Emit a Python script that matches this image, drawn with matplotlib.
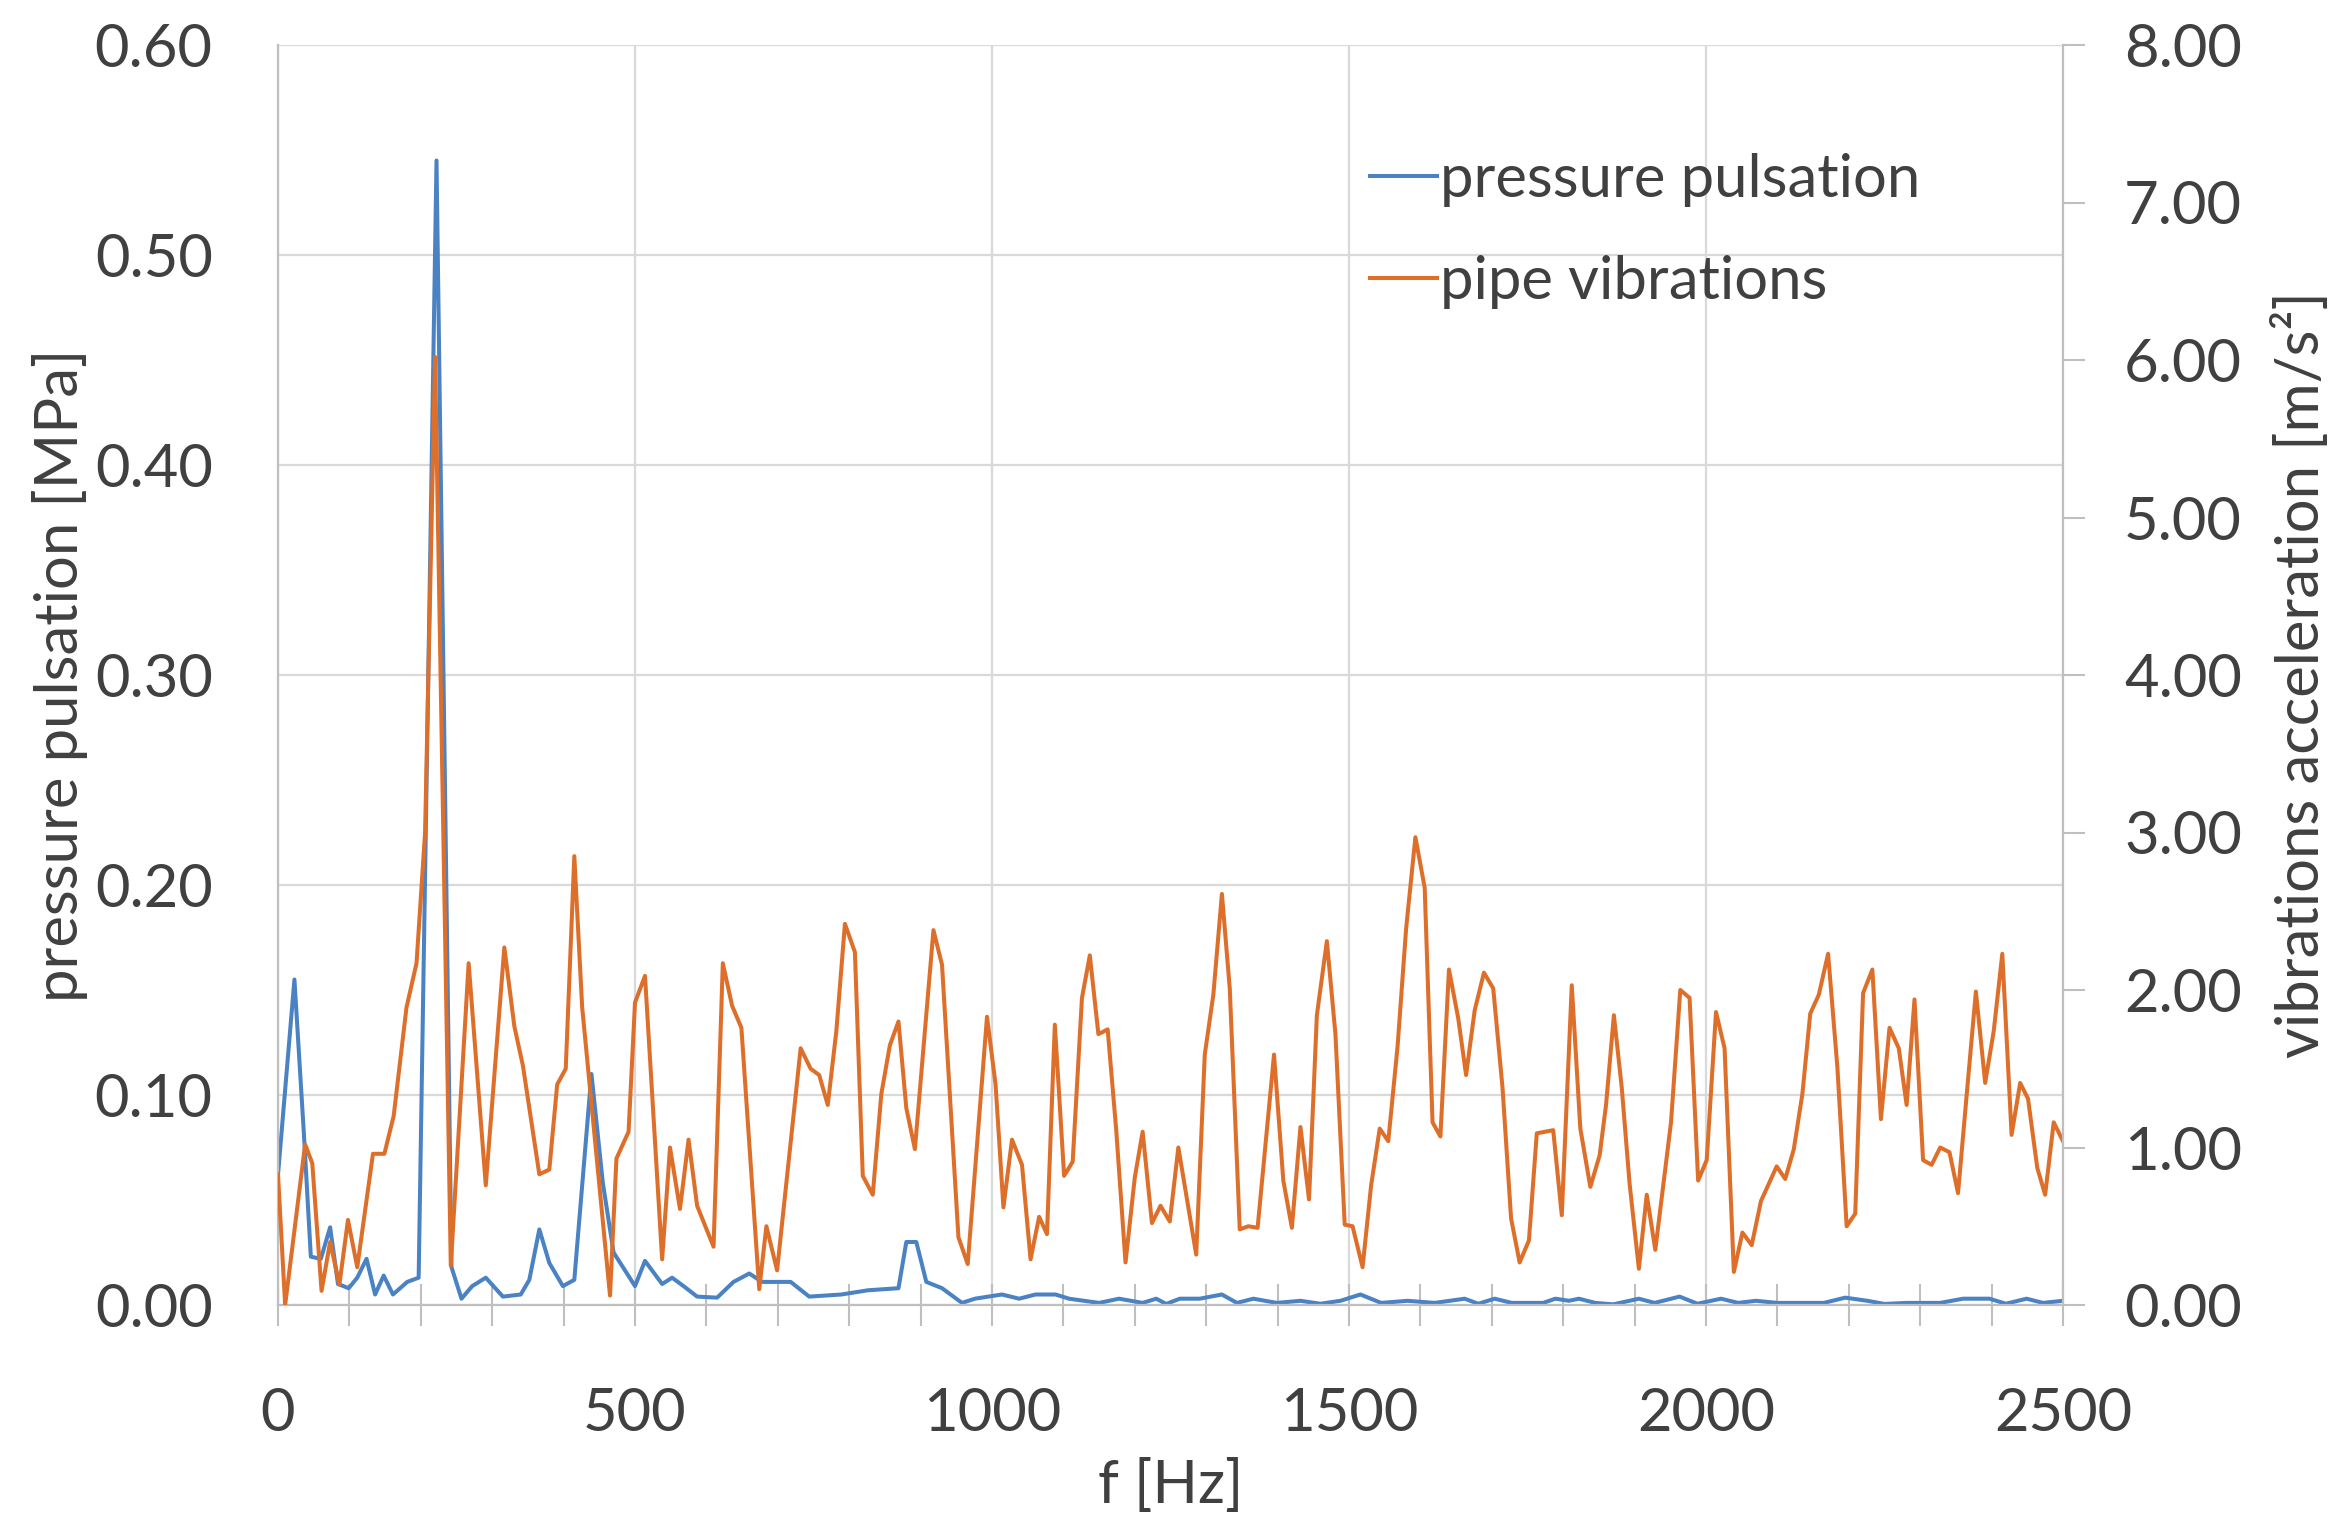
import matplotlib
matplotlib.use("Agg")
import matplotlib.pyplot as plt
from matplotlib.ticker import MultipleLocator

plt.rcParams['font.family'] = ['Lato', 'DejaVu Sans']

# pressure pulsation spectrum [MPa]
freq_pressure = [0, 23, 36, 46, 60, 73, 84, 99, 111, 124, 136, 148, 161, 181, 197,
                 222, 243, 257, 272, 291, 315, 340, 352, 366, 380, 399, 415, 439,
                 455, 470, 500, 514, 538, 552, 568, 587, 615, 638, 660, 678, 718,
                 744, 789, 826, 869, 880, 894, 908, 930, 958, 976, 1014, 1038, 1061,
                 1089, 1108, 1150, 1178, 1211, 1230, 1244, 1263, 1291, 1322, 1343,
                 1366, 1399, 1432, 1460, 1488, 1516, 1545, 1582, 1620, 1662, 1681,
                 1704, 1728, 1772, 1789, 1808, 1822, 1845, 1870, 1906, 1928, 1963,
                 1988, 2021, 2045, 2070, 2100, 2165, 2195, 2226, 2250, 2281, 2328,
                 2360, 2397, 2420, 2449, 2472, 2500]
pressure = [0.062, 0.155, 0.083, 0.023, 0.022, 0.037, 0.010, 0.008, 0.013, 0.022,
            0.005, 0.014, 0.005, 0.011, 0.013, 0.545, 0.018, 0.003, 0.009, 0.013,
            0.004, 0.005, 0.012, 0.036, 0.020, 0.009, 0.012, 0.110, 0.058, 0.025,
            0.009, 0.021, 0.010, 0.013, 0.009, 0.004, 0.0035, 0.011, 0.015, 0.011,
            0.011, 0.004, 0.005, 0.007, 0.008, 0.030, 0.030, 0.011, 0.008, 0.001,
            0.003, 0.005, 0.003, 0.005, 0.005, 0.003, 0.001, 0.003, 0.001, 0.003,
            0.0005, 0.003, 0.003, 0.005, 0.001, 0.003, 0.001, 0.002, 0.0006, 0.002,
            0.005, 0.001, 0.002, 0.001, 0.003, 0.0006, 0.003, 0.001, 0.001, 0.003,
            0.002, 0.003, 0.001, 0.0003, 0.003, 0.001, 0.004, 0.0006, 0.003, 0.001,
            0.002, 0.001, 0.001, 0.0035, 0.002, 0.0005, 0.001, 0.001, 0.003, 0.003,
            0.0006, 0.003, 0.001, 0.002]

# pipe vibration spectrum [m/s2]
freq_vib = [0, 10, 38, 48, 61, 73, 86, 98, 111, 133, 149, 162, 180, 194, 206, 220,
            242, 267, 291, 317, 331, 343, 366, 380, 391, 403, 415, 426, 465, 474,
            491, 500, 514, 538, 549, 563, 575, 587, 610, 623, 636, 649, 674, 684,
            699, 732, 746, 758, 770, 782, 794, 808, 819, 833, 845, 857, 869, 880,
            892, 918, 930, 953, 966, 993, 1005, 1016, 1028, 1042, 1054, 1066, 1077,
            1088, 1101, 1113, 1126, 1137, 1149, 1162, 1174, 1187, 1200, 1211, 1224,
            1236, 1249, 1261, 1286, 1298, 1310, 1322, 1333, 1347, 1359, 1372, 1395,
            1408, 1420, 1432, 1444, 1455, 1469, 1481, 1494, 1505, 1519, 1531, 1543,
            1555, 1568, 1580, 1593, 1606, 1617, 1628, 1640, 1653, 1664, 1676, 1689,
            1702, 1715, 1727, 1739, 1752, 1763, 1786, 1798, 1812, 1824, 1838, 1851,
            1860, 1871, 1882, 1893, 1906, 1917, 1929, 1951, 1964, 1977, 1989, 2001,
            2014, 2026, 2039, 2051, 2064, 2077, 2088, 2099, 2111, 2123, 2135, 2146,
            2158, 2171, 2184, 2197, 2209, 2220, 2233, 2245, 2257, 2270, 2281, 2292,
            2304, 2316, 2328, 2341, 2353, 2366, 2378, 2391, 2403, 2415, 2428, 2440,
            2451, 2464, 2475, 2487, 2500]
vibration = [0.83, 0.0, 1.02, 0.90, 0.09, 0.40, 0.13, 0.54, 0.24, 0.96, 0.96, 1.20,
             1.89, 2.17, 3.0, 6.02, 0.25, 2.17, 0.76, 2.27, 1.77, 1.52, 0.83, 0.86,
             1.40, 1.50, 2.85, 1.89, 0.06, 0.93, 1.10, 1.92, 2.09, 0.29, 1.00, 0.61,
             1.05, 0.63, 0.37, 2.17, 1.90, 1.76, 0.10, 0.50, 0.22, 1.63, 1.50, 1.46,
             1.27, 1.74, 2.42, 2.24, 0.82, 0.70, 1.34, 1.65, 1.80, 1.25, 0.99, 2.38,
             2.16, 0.43, 0.26, 1.83, 1.40, 0.62, 1.05, 0.89, 0.29, 0.56, 0.45, 1.78,
             0.82, 0.91, 1.95, 2.22, 1.72, 1.75, 1.11, 0.27, 0.81, 1.10, 0.52, 0.63,
             0.53, 1.00, 0.32, 1.59, 1.97, 2.61, 2.01, 0.48, 0.50, 0.49, 1.59, 0.79,
             0.49, 1.13, 0.67, 1.84, 2.31, 1.72, 0.51, 0.50, 0.24, 0.76, 1.12, 1.04,
             1.64, 2.39, 2.97, 2.65, 1.16, 1.07, 2.13, 1.82, 1.46, 1.87, 2.11, 2.01,
             1.38, 0.55, 0.27, 0.41, 1.09, 1.11, 0.57, 2.03, 1.12, 0.75, 0.95, 1.27,
             1.84, 1.38, 0.77, 0.23, 0.70, 0.35, 1.16, 2.00, 1.95, 0.79, 0.92, 1.86,
             1.63, 0.21, 0.46, 0.38, 0.66, 0.77, 0.88, 0.80, 0.99, 1.34, 1.85, 1.97,
             2.23, 1.51, 0.50, 0.58, 1.98, 2.13, 1.18, 1.76, 1.63, 1.27, 1.94, 0.92,
             0.89, 1.00, 0.97, 0.71, 1.38, 1.99, 1.41, 1.74, 2.23, 1.08, 1.41, 1.31,
             0.87, 0.70, 1.16, 1.04]

x_ticks = [0, 500, 1000, 1500, 2000, 2500]
left_ticks = [0.0, 0.1, 0.2, 0.3, 0.4, 0.5, 0.6]
right_ticks = [0, 1, 2, 3, 4, 5, 6, 7, 8]

BLUE = "#4a82c4"
ORANGE = "#dd6f2a"
TEXT = "#404040"
GRID = "#d9d9d9"
SPINE = "#bfbfbf"
FS = 43

W, H = 2347, 1532
fig = plt.figure(figsize=(W / 100, H / 100), dpi=100)
ax = fig.add_axes([278 / W, 1 - 1305 / H, (2063 - 278) / W, (1305 - 45) / H])
ax2 = ax.twinx()

ax.plot(freq_pressure, pressure, color=BLUE, lw=2.9, label="pressure pulsation")
ax2.plot(freq_vib, vibration, color=ORANGE, lw=2.9, label="pipe vibrations")

ax.set_xlim(0, 2500)
ax.set_ylim(0, 0.6)
ax2.set_ylim(0, 8)
ax.set_xticks(x_ticks)
ax.xaxis.set_minor_locator(MultipleLocator(100))
ax.set_yticks(left_ticks)
ax.set_yticklabels([f"{v:.2f}" for v in left_ticks])
ax2.set_yticks(right_ticks)
ax2.set_yticklabels([f"{v:.2f}" for v in right_ticks])

ax.set_axisbelow(True)
ax.grid(True, which="major", color=GRID, lw=1.6)

for s in ["top", "right"]:
    ax.spines[s].set_visible(False)
for s in ["top", "left", "bottom"]:
    ax2.spines[s].set_visible(False)
for sp in [ax.spines["left"], ax.spines["bottom"], ax2.spines["right"]]:
    sp.set_color(SPINE)
    sp.set_linewidth(1.6)

ax.tick_params(axis="y", length=0, pad=47, labelsize=FS, labelcolor=TEXT)
ax.tick_params(axis="x", which="both", direction="inout", length=30, width=1.5,
               color=SPINE, pad=44, labelsize=FS, labelcolor=TEXT)
ax2.tick_params(axis="y", direction="out", length=16, width=1.5, color=SPINE,
                pad=28, labelsize=FS, labelcolor=TEXT)

ax.set_xlabel("f [Hz]", fontsize=FS, color=TEXT, va="center")
ax.xaxis.set_label_coords(0.5, -0.143)
ax.set_ylabel("pressure pulsation [MPa]", fontsize=FS, color=TEXT, va="center")
ax.yaxis.set_label_coords(-0.122, 0.5)
ax2.set_ylabel("vibrations acceleration [m/s²]", fontsize=FS, color=TEXT, va="center")
ax2.yaxis.set_label_coords(1.133, 0.5)

handles = ax.get_lines() + ax2.get_lines()
leg = fig.legend(handles=handles, labels=[h.get_label() for h in handles],
                 loc="upper left", bbox_to_anchor=(1370 / W, 1 - 153 / H),
                 frameon=False, fontsize=FS, handlelength=1.12, handletextpad=0.05,
                 labelspacing=0.8, borderpad=0, borderaxespad=0)
for t in leg.get_texts():
    t.set_color(TEXT)

fig.savefig("out.png", dpi=100)
